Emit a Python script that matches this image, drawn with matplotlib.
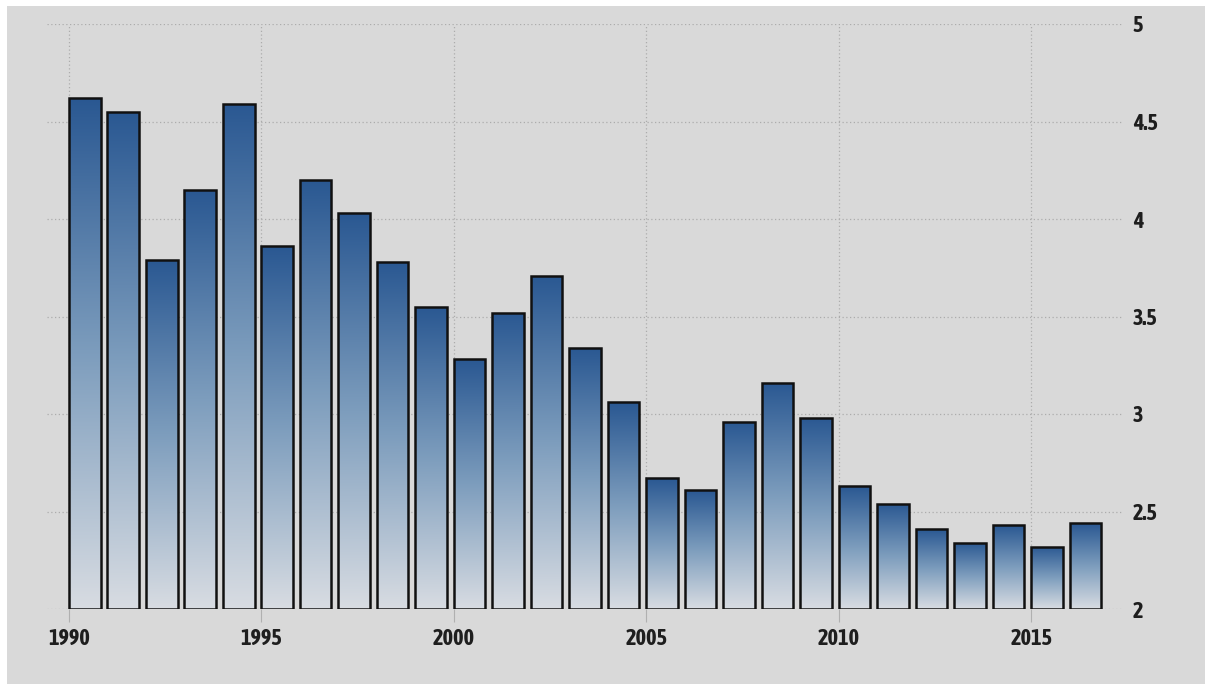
import numpy as np
import matplotlib
matplotlib.use('Agg')
import matplotlib.pyplot as plt
from matplotlib import font_manager
from matplotlib.colors import LinearSegmentedColormap
from matplotlib.patches import Rectangle

years = list(range(1990, 2017))
values = [4.62, 4.55, 3.79, 4.15, 4.59, 3.86, 4.20, 4.03, 3.78, 3.55,
          3.28, 3.52, 3.71, 3.34, 3.06, 2.67, 2.61, 2.96, 3.16, 2.98,
          2.63, 2.54, 2.41, 2.34, 2.43, 2.32, 2.44]
x_ticks = [1990, 1995, 2000, 2005, 2010, 2015]
y_ticks = [2, 2.5, 3, 3.5, 4, 4.5, 5]
y_labels = ['2', '2.5', '3', '3.5', '4', '4.5', '5']

BG = '#d9d9d9'
TXT = '#1e1e1e'

# a narrow bold face looks closest to the original labels; take one that is installed
def _w(f):
    w = f.weight
    return w if isinstance(w, int) else {'bold': 700, 'semibold': 600, 'heavy': 800,
                                         'black': 900, 'demibold': 600}.get(w, 400)

narrow_bold = sorted({f.name for f in font_manager.fontManager.ttflist
                      if ('Narrow' in f.name or 'Condensed' in f.name) and _w(f) >= 600})
narrow_any = sorted({f.name for f in font_manager.fontManager.ttflist
                     if 'Narrow' in f.name or 'Condensed' in f.name})
pick = narrow_bold[:1] or narrow_any[:1] or ['Roboto']
FONT = pick + ['DejaVu Sans']

fig = plt.figure(figsize=(12.05, 6.84), dpi=100)
fig.patch.set_facecolor('white')
fig.patches.append(Rectangle((7 / 1205, 0), 1, 1 - 6 / 684,
                             transform=fig.transFigure, facecolor=BG,
                             edgecolor='none', zorder=-10))

ax = fig.add_axes([47 / 1205, 75 / 684, (1123 - 47) / 1205, 585 / 684])
ax.set_facecolor('none')
ax.set_xlim(1989.43, 2017.38)
ax.set_ylim(2, 5)

cmap = LinearSegmentedColormap.from_list('bluefade', ['#d8dce2', '#7d9dbd', '#2a5892'])
grad = np.linspace(0, 1, 256).reshape(-1, 1)

width = 0.82
bars = ax.bar(years, [v - 2 for v in values], bottom=2, width=width, align='edge',
              facecolor='none', edgecolor='#111111', linewidth=1.8, zorder=3)
for b in bars:
    x0, y0 = b.get_x(), b.get_y()
    im = ax.imshow(grad, cmap=cmap, aspect='auto', origin='lower',
                   extent=[x0, x0 + b.get_width(), y0, y0 + b.get_height()],
                   zorder=2, interpolation='bilinear')
    im.set_clip_path(b)

ax.set_xticks(x_ticks)
ax.set_xticklabels([str(t) for t in x_ticks])
ax.set_yticks(y_ticks)
ax.set_yticklabels(y_labels)
ax.yaxis.tick_right()
ax.grid(True, color='#acacac', linestyle=(0, (1, 2)), linewidth=0.9, zorder=1)
ax.set_axisbelow(True)
for s in ax.spines.values():
    s.set_visible(False)
size = 16 if pick[0] != 'Roboto' else 13
ax.tick_params(axis='x', length=9, color='#b0b0b0', pad=5, labelsize=size, labelcolor=TXT)
ax.tick_params(axis='y', length=0, pad=7, labelsize=size, labelcolor=TXT)
for lab in ax.get_xticklabels() + ax.get_yticklabels():
    lab.set_family(FONT)
    lab.set_fontweight('bold')

fig.savefig('out.png', dpi=100, facecolor=fig.get_facecolor())
